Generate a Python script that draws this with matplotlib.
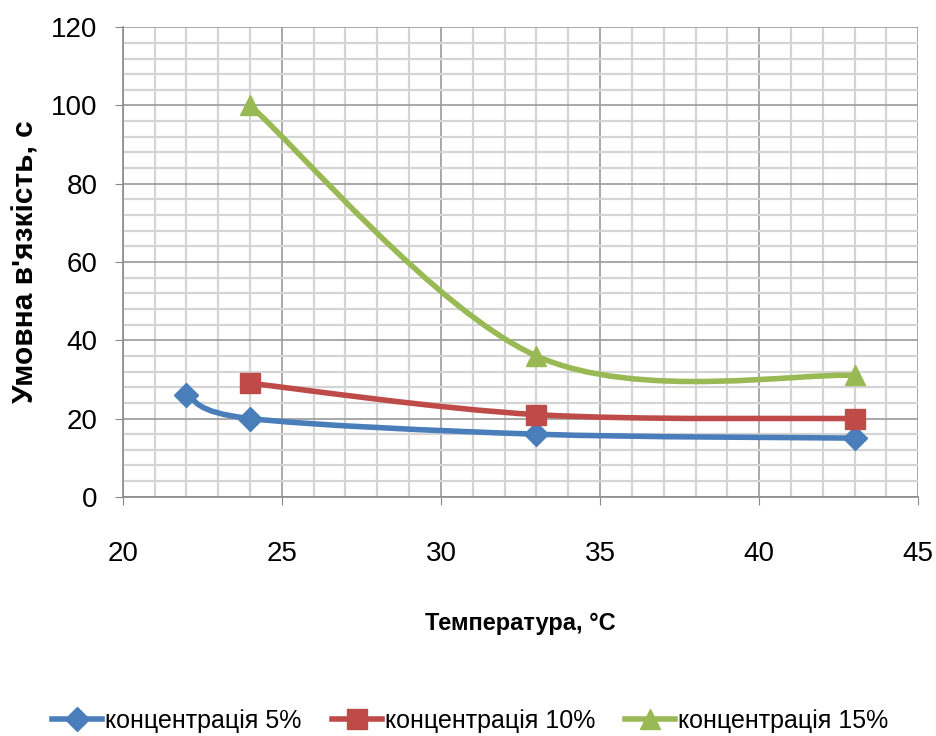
import matplotlib.pyplot as plt
from matplotlib.path import Path
from matplotlib.patches import PathPatch
from matplotlib.lines import Line2D

# data
temp_5 = [22, 24, 33, 43]
visc_5 = [26, 20, 16, 15]
temp_10 = [24, 33, 43]
visc_10 = [29, 21, 20]
temp_15 = [24, 33, 43]
visc_15 = [100, 36, 31]

labels = ["концентрація 5%", "концентрація 10%", "концентрація 15%"]
colors = ["#4A7EBB", "#BE4B48", "#98B954"]
markers = ["D", "s", "^"]
msizes = [12, 15, 15]

FONT = "Liberation Sans"


# Excel-like smoothed line (Catmull-Rom as cubic bezier)
def smooth_path(xs, ys):
    pts = list(zip(xs, ys))
    n = len(pts)
    verts = [pts[0]]
    codes = [Path.MOVETO]
    for i in range(n - 1):
        p0 = pts[i - 1] if i > 0 else pts[i]
        p1 = pts[i]
        p2 = pts[i + 1]
        p3 = pts[i + 2] if i + 2 < n else pts[i + 1]
        c1 = (p1[0] + (p2[0] - p0[0]) / 6, p1[1] + (p2[1] - p0[1]) / 6)
        c2 = (p2[0] - (p3[0] - p1[0]) / 6, p2[1] - (p3[1] - p1[1]) / 6)
        verts += [c1, c2, p2]
        codes += [Path.CURVE4] * 3
    return Path(verts, codes)


fig = plt.figure(figsize=(9.37, 7.36), dpi=100)
ax = fig.add_axes([0.131, 0.325, 0.849, 0.638])

series = [(temp_5, visc_5), (temp_10, visc_10), (temp_15, visc_15)]
handles = []
for (xs, ys), c, m, ms, lab in zip(series, colors, markers, msizes, labels):
    patch = PathPatch(smooth_path(xs, ys), facecolor="none", edgecolor=c,
                      lw=4, zorder=3, capstyle="round")
    ax.add_patch(patch)
    ax.plot(xs, ys, linestyle="none", marker=m, ms=ms, color=c, zorder=4)
    handles.append(Line2D([], [], color=c, lw=4, marker=m, ms=ms))

ax.set_xlim(20, 45)
ax.set_ylim(0, 120)
ax.set_xticks(range(20, 46, 5))
ax.set_yticks(range(0, 121, 20))
ax.set_xticks(range(20, 46), minor=True)
ax.set_yticks(range(0, 121, 4), minor=True)
ax.grid(which="major", color="#9a9a9a", lw=1.2)
ax.grid(which="minor", color="#d4d4d4", lw=1.6)
ax.set_axisbelow(True)

for s in ["top", "right"]:
    ax.spines[s].set_visible(False)
for s in ["left", "bottom"]:
    ax.spines[s].set_color("#8a8a8a")
    ax.spines[s].set_linewidth(1.2)

ax.tick_params(which="major", length=6, color="#8a8a8a")
ax.tick_params(axis="y", which="major", pad=12)
ax.tick_params(axis="x", which="major", pad=26)
ax.tick_params(which="minor", length=0)
for lab in ax.get_xticklabels() + ax.get_yticklabels():
    lab.set_fontfamily(FONT)
    lab.set_fontsize(20)

ax.set_ylabel("Умовна в'язкість, с", fontfamily=FONT,
              fontweight="bold", fontsize=21.5)
ax.yaxis.set_label_coords(-0.105, 0.5)
ax.set_xlabel("Температура, °С", fontfamily=FONT,
              fontweight="bold", fontsize=17)
ax.xaxis.set_label_coords(0.5, -0.245)

fig.legend(handles, labels, loc="center", bbox_to_anchor=(0.502, 0.021),
           ncol=3, frameon=False, handlelength=2.0, handletextpad=0.12,
           columnspacing=1.2, prop={"family": FONT, "size": 18})

fig.savefig("out.png", dpi=100)
